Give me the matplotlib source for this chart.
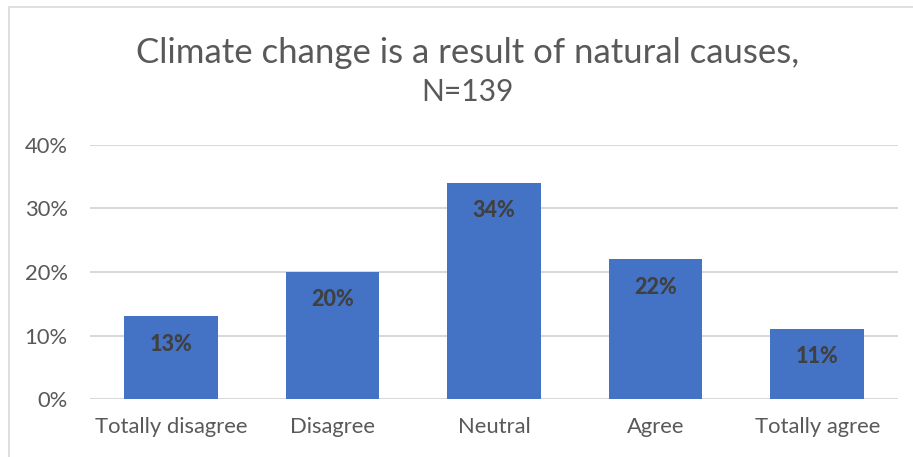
import matplotlib
matplotlib.use("Agg")
import matplotlib.pyplot as plt
from matplotlib.patches import Rectangle
from matplotlib.ticker import PercentFormatter

categories = ["Totally disagree", "Disagree", "Neutral", "Agree", "Totally agree"]
shares = [13, 20, 34, 22, 11]
y_ticks = [0, 10, 20, 30, 40]

plt.rcParams["font.family"] = ["Lato", "DejaVu Sans"]

W, H = 913, 457
fig = plt.figure(figsize=(W / 100, H / 100), dpi=100)
fig.patch.set_facecolor("white")

# light frame around the chart area
fig.add_artist(Rectangle((9 / W, -0.1), 1.2, 1.1 - 7 / H, transform=fig.transFigure,
                         fill=False, edgecolor="#D9D9D9", linewidth=1.2))

ax = fig.add_axes([90 / W, (H - 399) / H, (898 - 90) / W, (399 - 145) / H])
x = range(len(categories))
bars = ax.bar(x, shares, width=0.58, color="#4472C4", zorder=2)

# value labels sit a little below each bar top
for b, v in zip(bars, shares):
    ax.annotate(f"{v}%", (b.get_x() + b.get_width() / 2, v), xytext=(0, -20),
                textcoords="offset points", ha="center", va="center",
                fontsize=15.5, fontweight="black", color="#404040", zorder=3)

ax.set_xlim(-0.5, len(categories) - 0.5)
ax.set_ylim(0, 40)
ax.set_yticks(y_ticks)
ax.yaxis.set_major_formatter(PercentFormatter(decimals=0))
ax.set_xticks(list(x))
ax.set_xticklabels(categories)
ax.tick_params(axis="both", length=0, labelsize=15.8, labelcolor="#595959")
ax.tick_params(axis="y", pad=16)
ax.tick_params(axis="x", pad=13)
ax.grid(axis="y", color="#D9D9D9", linewidth=1.5, zorder=0)
for s in ax.spines.values():
    s.set_visible(False)

fig.text(468 / W, 1 - 53 / H, "Climate change is a result of natural causes,",
         ha="center", va="center", fontsize=25, color="#595959")
fig.text(467 / W, 1 - 92 / H, "N=139", ha="center", va="center", fontsize=21.5, color="#595959")

fig.savefig("out.png", dpi=100)
